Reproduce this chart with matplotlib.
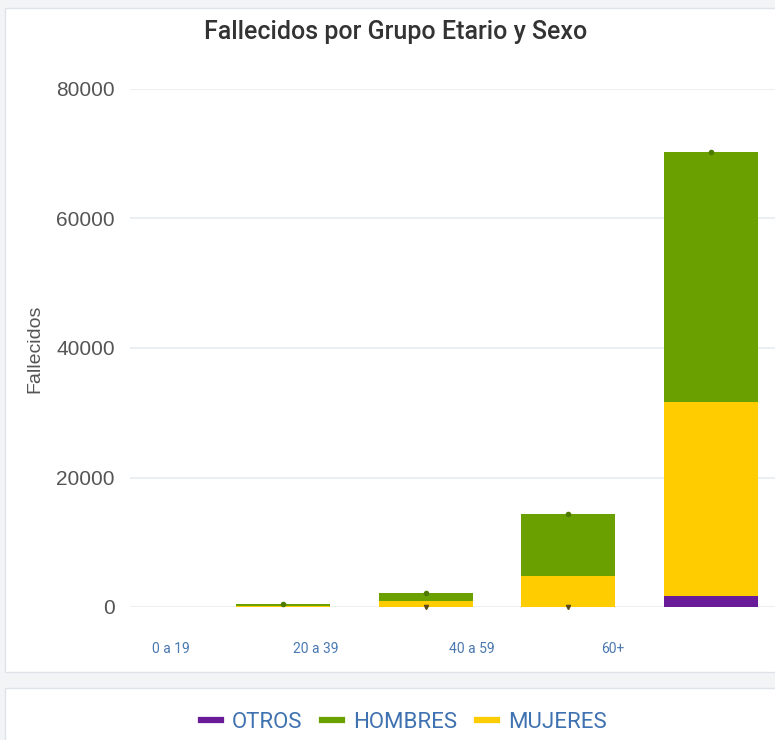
import matplotlib.pyplot as plt
import numpy as np
from matplotlib.patches import Rectangle
from matplotlib.lines import Line2D

plt.rcParams['font.family'] = ['Roboto', 'DejaVu Sans']

# datos
grupos = ['0 a 19', '20 a 39', '40 a 59', '60+', '']
otros = [0, 5, 20, 50, 1700]
mujeres = [5, 150, 900, 4800, 29900]
hombres = [10, 250, 1300, 9500, 38700]
etiquetas = ['0 a 19', '20 a 39', '40 a 59', '60+']
pos_etiquetas = [0.21, 1.23, 2.32, 3.31]

c_otros = '#6a1b9a'
c_hombres = '#6aa000'
c_mujeres = '#ffcc00'

fig = plt.figure(figsize=(7.75, 7.4), dpi=100)
fig.patch.set_facecolor('#f2f4f6')

# tarjetas de fondo
fig.patches.append(Rectangle((5 / 775, 1 - 672 / 740), 1.0, (672 - 8) / 740,
                             transform=fig.transFigure, facecolor='white',
                             edgecolor='#dfe3e8', lw=1, zorder=-2))
fig.patches.append(Rectangle((5 / 775, 1 - 745 / 740), 1.0, (745 - 688) / 740,
                             transform=fig.transFigure, facecolor='white',
                             edgecolor='#dfe3e8', lw=1, zorder=-2))

ax = fig.add_axes([130 / 775, 1 - 607 / 740, 1 - 130 / 775, (607 - 89) / 740])
ax.set_facecolor('none')

x = np.arange(len(grupos))
w = 0.66
ax.bar(x, otros, w, color=c_otros, zorder=3)
ax.bar(x, mujeres, w, bottom=otros, color=c_mujeres, zorder=3)
base = np.array(otros) + np.array(mujeres)
ax.bar(x, hombres, w, bottom=base, color=c_hombres, zorder=3)

# marcadores pequeños en los extremos
total = base + np.array(hombres)
ax.plot(x[1:], total[1:], ls='none', marker='o', ms=3, color='#4f7a00', zorder=4, clip_on=False)
ax.plot(x[2:4], [0, 0], ls='none', marker='v', ms=3, color='#5a4a1a', zorder=4, clip_on=False)

ax.set_xlim(-0.077, 4.45)
ax.set_ylim(0, 80000)
ax.set_yticks([0, 20000, 40000, 60000, 80000])
ax.yaxis.grid(True, color='#e9ecef', lw=1.2, zorder=0)
ax.set_axisbelow(True)
for s in ax.spines.values():
    s.set_visible(False)
ax.tick_params(axis='y', length=0, labelsize=15, labelcolor='#555555', pad=11)
for t in ax.get_yticklabels():
    t.set_family('Liberation Sans')
ax.set_xticks(pos_etiquetas)
ax.set_xticklabels(etiquetas)
ax.tick_params(axis='x', length=0, labelsize=10, labelcolor='#4a78b0', pad=25)

fig.text(35 / 775, 1 - 349 / 740, 'Fallecidos', rotation=90, ha='center', va='center',
         fontsize=14, color='#555555', family='Liberation Sans')
fig.text(396 / 775, 1 - 32 / 740, 'Fallecidos por Grupo Etario y Sexo', ha='center',
         va='center', fontsize=18, color='#333333', fontweight='medium')

handles = [Line2D([], [], color=c, lw=4.5) for c in (c_otros, c_hombres, c_mujeres)]
leg = fig.legend(handles, ['OTROS', 'HOMBRES', 'MUJERES'], loc='center',
                 bbox_to_anchor=(404 / 775, 1 - 722 / 740), ncol=3, frameon=False,
                 fontsize=16, handlelength=0.9, handletextpad=0.5, columnspacing=0.9)
for t in leg.get_texts():
    t.set_color('#3f72b0')

fig.savefig('out.png', dpi=100, facecolor=fig.get_facecolor())
